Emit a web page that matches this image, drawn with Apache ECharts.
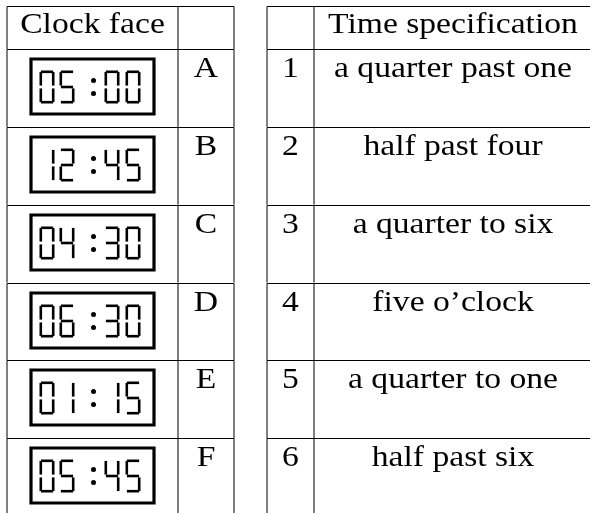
<!DOCTYPE html>
<html>
<head>
<meta charset="utf-8">
<script src="https://cdn.jsdelivr.net/npm/echarts@6/dist/echarts.min.js"></script>
<style>
  html, body { margin: 0; padding: 0; background: #fff; }
  #main { width: 590px; height: 513px; }
</style>
</head>
<body>
<div id="main"></div>
<script type="text/javascript">
// table contents
var clockTimes = ['05:00', '12:45', '04:30', '06:30', '01:15', '05:45'];
var clockLetters = ['A', 'B', 'C', 'D', 'E', 'F'];
var specNumbers = ['1', '2', '3', '4', '5', '6'];
var timeSpecs = ['a quarter past one', 'half past four', 'a quarter to six',
                 'five o\u2019clock', 'a quarter to one', 'half past six'];
var headerTexts = ['Clock face', '', '', 'Time specification'];

// layout (x axis in px units, y axis in row units)
var HEAD_TOP = -0.553;
var LEFT_COLS = [7, 178, 234];
var RIGHT_COLS = [267, 314, 600];
var FONT = 'Liberation Serif';

// 7 segment shapes: which segments light for each digit
var SEGS = {
	'0': 'abcdef', '1': 'bc', '2': 'abged', '3': 'abgcd', '4': 'fgbc',
	'5': 'afgcd', '6': 'afgedc', '7': 'abc', '8': 'abcdefg', '9': 'abcdfg'
};
// x offsets of the 4 digit cells and the colon, from the clock centre
var CELL_X = [-53, -33, 12, 33];
var COLON_X = 1;

function segRects(ch, x, y) {
	var W = 15, H = 33, t = 2.6, g = 1.4, out = [];
	var on = SEGS[ch] || '';
	var defs = {
		a: [g, 0, W - 2 * g, t],
		d: [g, H - t, W - 2 * g, t],
		g: [g, H / 2 - t / 2, W - 2 * g, t],
		f: [0, g, t, H / 2 - 2 * g],
		b: [W - t, g, t, H / 2 - 2 * g],
		e: [0, H / 2 + g, t, H / 2 - 2 * g],
		c: [W - t, H / 2 + g, t, H / 2 - 2 * g]
	};
	for (var i = 0; i < on.length; i++) {
		var d = defs[on[i]];
		out.push({ type: 'rect', shape: { x: x + d[0], y: y + d[1], width: d[2], height: d[3] }, style: { fill: '#000' } });
	}
	return out;
}

function clockFace(str, cx, top) {
	var els = [];
	// frame
	els.push({ type: 'rect', shape: { x: cx - 61.5, y: top + 1.5, width: 123, height: 55 },
		style: { fill: 'none', stroke: '#000', lineWidth: 3.2 } });
	var digits = str.replace(':', '');
	var dy = top + 13;
	for (var i = 0; i < 4; i++) {
		els = els.concat(segRects(digits[i], cx + CELL_X[i], dy));
	}
	els.push({ type: 'circle', shape: { cx: cx + COLON_X, cy: dy + 10, r: 2.5 }, style: { fill: '#000' } });
	els.push({ type: 'circle', shape: { cx: cx + COLON_X, cy: dy + 23, r: 2.5 }, style: { fill: '#000' } });
	return els;
}

function mkText(str, cx, cy) {
	return { type: 'text', x: cx, y: cy, scaleX: 1.12,
		style: { text: str, x: 0, y: 0, align: 'center', verticalAlign: 'middle',
			fontFamily: FONT, fontSize: 30, fill: '#000' } };
}

function mkLine(x1, y1, x2, y2) {
	return { type: 'line', shape: { x1: x1, y1: y1, x2: x2, y2: y2 },
		style: { stroke: '#000', lineWidth: 1 } };
}

function renderRow(params, api) {
	var top = api.value(1);
	var isHead = top < 0;
	var row = Math.round(top);
	var bottom = isHead ? 0 : top + 1;
	var y0 = Math.round(api.coord([0, top])[1]) + 0.5;
	var y1 = api.coord([0, bottom])[1];
	var px = function (v) { return api.coord([v, 0])[0]; };
	var kids = [];

	// top rule of this row, both tables
	kids.push(mkLine(px(LEFT_COLS[0]), y0, px(LEFT_COLS[2]), y0));
	kids.push(mkLine(px(RIGHT_COLS[0]), y0, px(RIGHT_COLS[2]), y0));
	// column rules
	LEFT_COLS.concat(RIGHT_COLS).forEach(function (c) {
		var x = Math.round(px(c));
		kids.push(mkLine(x, y0, x, y1));
	});

	var cLeft = (px(LEFT_COLS[0]) + px(LEFT_COLS[1])) / 2;
	var cLetter = (px(LEFT_COLS[1]) + px(LEFT_COLS[2])) / 2;
	var cNum = (px(RIGHT_COLS[0]) + px(RIGHT_COLS[1])) / 2;
	var cSpec = 453;

	if (isHead) {
		var centers = [cLeft, cLetter, cNum, cSpec];
		headerTexts.forEach(function (t, i) {
			if (t) kids.push(mkText(t, centers[i], y0 + 19));
		});
	} else {
		kids = kids.concat(clockFace(clockTimes[row], cLeft, y0 + 8));
		kids.push(mkText(clockLetters[row], cLetter, y0 + 20));
		kids.push(mkText(specNumbers[row], cNum, y0 + 20));
		kids.push(mkText(timeSpecs[row], cSpec, y0 + 20));
	}
	return { type: 'group', children: kids };
}

var rowData = [[0, HEAD_TOP]];
for (var i = 0; i < clockTimes.length; i++) {
	rowData.push([0, i]);
}

var chart = echarts.init(document.getElementById('main'));
chart.setOption({
	animation: false,
	grid: { left: 0, right: 0, top: 6, bottom: 0 },
	xAxis: { type: 'value', min: 0, max: 590, show: false },
	yAxis: { type: 'value', min: HEAD_TOP, max: 5.96, inverse: true, show: false },
	series: [{
		type: 'custom',
		renderItem: renderRow,
		encode: { x: 0, y: 1 },
		data: rowData,
		silent: true
	}]
});
</script>
</body>
</html>
